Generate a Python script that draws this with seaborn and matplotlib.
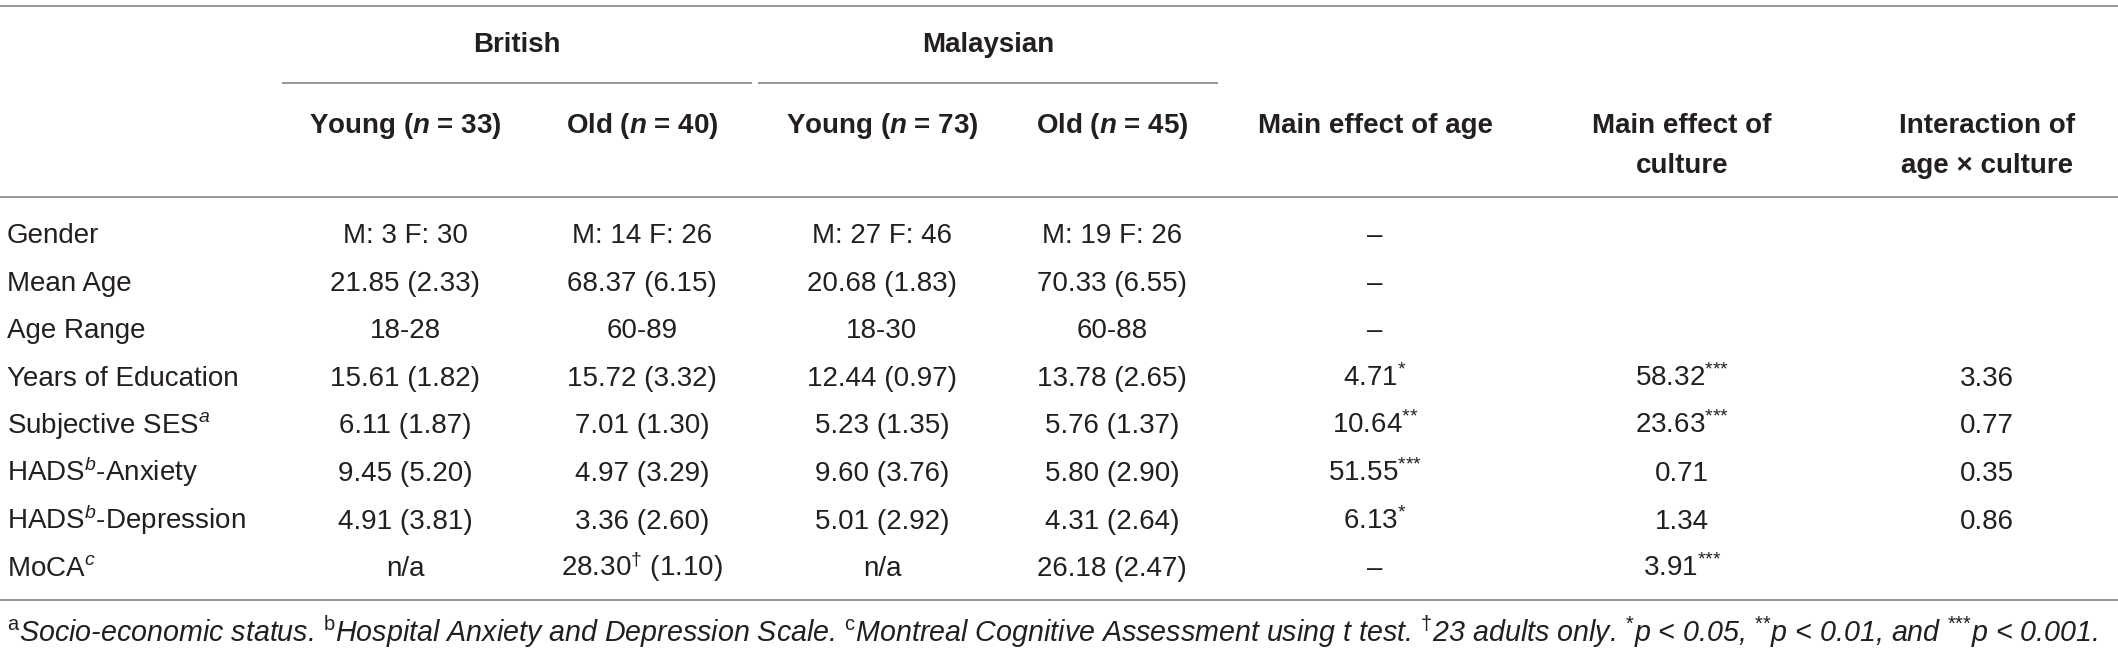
import numpy as np
import pandas as pd
import matplotlib
matplotlib.use("Agg")
import matplotlib.pyplot as plt
import seaborn as sns

# --- table content ---
groups = ["British", "Malaysian"]
col_headers = [
    "Young ($\\mathbfit{n}$ = 33)", "Old ($\\mathbfit{n}$ = 40)",
    "Young ($\\mathbfit{n}$ = 73)", "Old ($\\mathbfit{n}$ = 45)",
    "Main effect of age", "Main effect of\nculture", "Interaction of\nage \u00d7 culture",
]
row_labels = [
    "Gender", "Mean Age", "Age Range", "Years of Education",
    "Subjective SES$^{\\mathit{a}}$", "HADS$^{\\mathit{b}}$-Anxiety",
    "HADS$^{\\mathit{b}}$-Depression", "MoCA$^{\\mathit{c}}$",
]
british_young = ["M: 3 F: 30", "21.85 (2.33)", "18-28", "15.61 (1.82)",
                 "6.11 (1.87)", "9.45 (5.20)", "4.91 (3.81)", "n/a"]
british_old = ["M: 14 F: 26", "68.37 (6.15)", "60-89", "15.72 (3.32)",
               "7.01 (1.30)", "4.97 (3.29)", "3.36 (2.60)",
               "28.30$^{\\text{\u2020}}$ (1.10)"]
malay_young = ["M: 27 F: 46", "20.68 (1.83)", "18-30", "12.44 (0.97)",
               "5.23 (1.35)", "9.60 (3.76)", "5.01 (2.92)", "n/a"]
malay_old = ["M: 19 F: 26", "70.33 (6.55)", "60-88", "13.78 (2.65)",
             "5.76 (1.37)", "5.80 (2.90)", "4.31 (2.64)", "26.18 (2.47)"]
effect_age = ["\u2013", "\u2013", "\u2013", "4.71$^{\\text{*}}$",
              "10.64$^{\\text{**}}$", "51.55$^{\\text{***}}$",
              "6.13$^{\\text{*}}$", "\u2013"]
effect_culture = ["", "", "", "58.32$^{\\text{***}}$", "23.63$^{\\text{***}}$",
                  "0.71", "1.34", "3.91$^{\\text{***}}$"]
interaction = ["", "", "", "3.36", "0.77", "0.35", "0.86", ""]
footnote = ("$^{\\text{a}}$Socio-economic status. $^{\\text{b}}$Hospital Anxiety and "
            "Depression Scale. $^{\\text{c}}$Montreal Cognitive Assessment using t test. "
            "$^{\\text{\u2020}}$23 adults only. $^{\\text{*}}$p < 0.05, "
            "$^{\\text{**}}$p < 0.01, and $^{\\text{***}}$p < 0.001.")

df = pd.DataFrame({"label": row_labels, "by": british_young, "bo": british_old,
                   "my": malay_young, "mo": malay_old, "age": effect_age,
                   "cult": effect_culture, "inter": interaction})

# --- style ---
sns.set_theme(style="white")
plt.rcParams["font.family"] = ["Liberation Sans", "DejaVu Sans"]
plt.rcParams["mathtext.fontset"] = "custom"
plt.rcParams["mathtext.rm"] = "Liberation Sans"
plt.rcParams["mathtext.it"] = "Liberation Sans:italic"
plt.rcParams["mathtext.bf"] = "Liberation Sans:bold"
plt.rcParams["mathtext.bfit"] = "Liberation Sans:italic:bold"

W, H = 2118, 654
fig = plt.figure(figsize=(W / 100, H / 100), dpi=100)
ax = fig.add_axes([0, 0, 1, 1])
ax.set_xlim(0, W)
ax.set_ylim(H, 0)
ax.axis("off")

txt = "#231f20"
line_c = "#8f8f8f"
fs = 20

col_x = [405, 642, 882, 1112, 1375, 1682, 1987]
group_spans = [(282, 752), (758, 1218)]
row_y0, row_dy = 233, 47.6

# rules
ax.hlines(6, 0, W, color=line_c, lw=1.3)
for (x0, x1) in group_spans:
    ax.hlines(83, x0, x1, color=line_c, lw=1.3)
ax.hlines(197, 0, W, color=line_c, lw=1.3)
ax.hlines(600, 0, W, color=line_c, lw=1.3)

# group headers
for g, (x0, x1) in zip(groups, group_spans):
    ax.text((x0 + x1) / 2, 52, g, ha="center", va="baseline",
            fontsize=fs, fontweight="bold", color=txt)

# column headers
for x, h in zip(col_x, col_headers):
    for i, part in enumerate(h.split("\n")):
        ax.text(x, 133 + i * 40, part, ha="center", va="baseline",
                fontsize=fs, fontweight="bold", color=txt)

# body
value_cols = ["by", "bo", "my", "mo", "age", "cult", "inter"]
for r, row in df.iterrows():
    yb = row_y0 + r * row_dy + 10
    ax.text(7, yb, row["label"], ha="left", va="baseline", fontsize=fs, color=txt)
    for x, c in zip(col_x, value_cols):
        if row[c]:
            ax.text(x, yb, row[c], ha="center", va="baseline", fontsize=fs, color=txt)

ax.text(7, 642, footnote, ha="left", va="baseline", fontsize=20.6,
        style="italic", color=txt)

fig.savefig("out.png", dpi=100)
